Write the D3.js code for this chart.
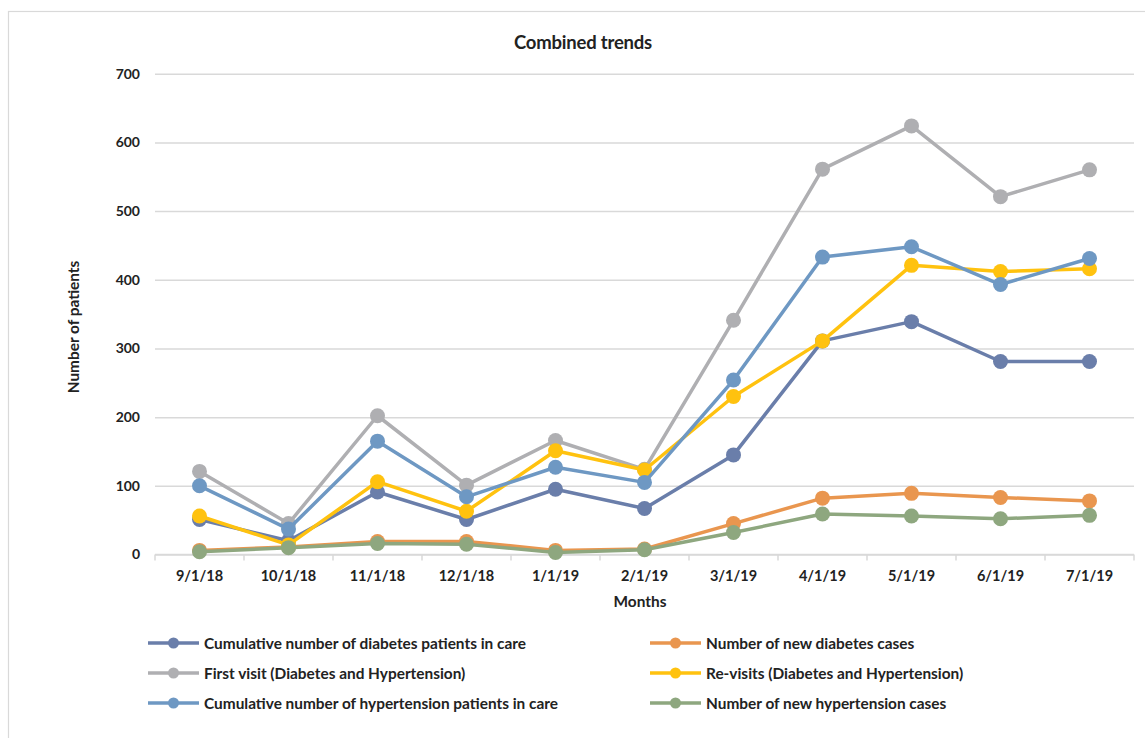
<!DOCTYPE html>
<html>
<head>
<meta charset="utf-8">
<script src="https://cdn.jsdelivr.net/npm/d3@7"></script>
<style>
  html, body { margin: 0; padding: 0; background: #fff; }
  svg { display: block; font-family: Lato, "Open Sans", sans-serif; }
</style>
</head>
<body>
<svg id="chart" width="1145" height="738"></svg>
<script>
// Monthly categories on the x axis
const months = ["9/1/18", "10/1/18", "11/1/18", "12/1/18", "1/1/19", "2/1/19",
                "3/1/19", "4/1/19", "5/1/19", "6/1/19", "7/1/19"];

// Y axis tick values
const yTicks = [0, 100, 200, 300, 400, 500, 600, 700];

// Series values, one per month
const cumulativeDiabetes   = [51, 20, 91, 51, 95, 67, 145, 311, 339, 281, 281];
const newDiabetes          = [6, 11, 19, 19, 6, 8, 45, 82, 89, 83, 78];
const firstVisit           = [121, 45, 202, 101, 166, 124, 341, 561, 624, 521, 560];
const reVisits             = [56, 14, 106, 63, 151, 123, 230, 311, 421, 412, 416];
const cumulativeHypertension = [100, 37, 165, 84, 127, 105, 254, 433, 448, 393, 431];
const newHypertension      = [4, 10, 16, 15, 3, 7, 32, 59, 56, 52, 57];

// Series names and colours, in drawing order
const seriesNames = [
  "Cumulative number of diabetes patients in care",
  "Number of new diabetes cases",
  "First visit (Diabetes and Hypertension)",
  "Re-visits (Diabetes and Hypertension)",
  "Cumulative number of hypertension patients in care",
  "Number of new hypertension cases"
];
const seriesColors = ["#6a7eaa", "#e9964f", "#afafb2", "#ffc20f", "#6e98c3", "#8ea77f"];
const seriesValues = [cumulativeDiabetes, newDiabetes, firstVisit, reVisits,
                      cumulativeHypertension, newHypertension];

const series = seriesNames.map((name, i) => ({
  name, color: seriesColors[i], values: seriesValues[i]
}));

const svg = d3.select("#chart");
const textColor = "#222";
const gridColor = "#d9d9d9";

// Chart frame
svg.append("rect")
  .attr("x", 8.5).attr("y", 11.5)
  .attr("width", 1200).attr("height", 800)
  .attr("fill", "#fff")
  .attr("stroke", "#d9d9d9").attr("stroke-width", 1.2);

const plot = { left: 155, right: 1134, top: 73.7, bottom: 554.5 };

const x = d3.scaleBand().domain(months).range([plot.left, plot.right]).padding(0);
const y = d3.scaleLinear().domain([0, 700]).range([plot.bottom, plot.top]);
const cx = d => x(d) + x.bandwidth() / 2;

// Horizontal gridlines and y tick labels
const yAxis = d3.axisLeft(y).tickValues(yTicks)
  .tickSize(-(plot.right - plot.left)).tickPadding(15).tickFormat(d3.format("d"));
const gy = svg.append("g").attr("transform", `translate(${plot.left},0)`).call(yAxis);
gy.select(".domain").remove();
gy.selectAll(".tick line").attr("stroke", gridColor).attr("stroke-width", 1.5);
gy.selectAll(".tick text")
  .attr("fill", textColor).attr("font-size", 14).attr("font-weight", "bold")
  .attr("font-family", "Lato, sans-serif");

// X axis: baseline with tick marks between categories
const gx = svg.append("g").attr("transform", `translate(0,${plot.bottom})`);
gx.append("line")
  .attr("x1", plot.left).attr("x2", plot.right)
  .attr("stroke", gridColor).attr("stroke-width", 1.5);
const boundaries = months.map(m => x(m)).concat([plot.right]);
gx.selectAll(".bt").data(boundaries).join("line")
  .attr("x1", d => d).attr("x2", d => d).attr("y1", 0).attr("y2", 6)
  .attr("stroke", gridColor).attr("stroke-width", 1.5);
gx.selectAll(".lbl").data(months).join("text")
  .attr("x", d => cx(d)).attr("y", 26)
  .attr("text-anchor", "middle")
  .attr("fill", textColor).attr("font-size", 14.5).attr("font-weight", "bold")
  .text(d => d);

// Lines and markers
const line = d3.line().x((d, i) => cx(months[i])).y(d => y(d));
series.forEach(s => {
  const g = svg.append("g");
  g.append("path")
    .attr("d", line(s.values))
    .attr("fill", "none").attr("stroke", s.color)
    .attr("stroke-width", 3.5).attr("stroke-linejoin", "round");
  g.selectAll("circle").data(s.values).join("circle")
    .attr("cx", (d, i) => cx(months[i])).attr("cy", d => y(d))
    .attr("r", 7.5).attr("fill", s.color);
});

// Title and axis titles
svg.append("text")
  .attr("x", 583).attr("y", 49).attr("text-anchor", "middle")
  .attr("fill", textColor).attr("font-size", 18.5).attr("font-weight", "bold")
  .attr("letter-spacing", -0.2)
  .text("Combined trends");

svg.append("text")
  .attr("transform", "translate(79,327) rotate(-90)")
  .attr("text-anchor", "middle")
  .attr("fill", textColor).attr("font-size", 15.4).attr("font-weight", "bold")
  .text("Number of patients");

svg.append("text")
  .attr("x", 640).attr("y", 607).attr("text-anchor", "middle")
  .attr("fill", textColor).attr("font-size", 15.4).attr("font-weight", "bold")
  .text("Months");

// Legend in two columns
const legendCols = [148, 650];
const legendRows = [643, 673, 703];
const legend = svg.append("g");
series.forEach((s, i) => {
  const lx = legendCols[i % 2];
  const ly = legendRows[Math.floor(i / 2)];
  const g = legend.append("g").attr("transform", `translate(${lx},${ly})`);
  g.append("line").attr("x1", 0).attr("x2", 51)
    .attr("stroke", s.color).attr("stroke-width", 3.5);
  g.append("circle").attr("cx", 25.5).attr("r", 5.5).attr("fill", s.color);
  g.append("text").attr("x", 56).attr("y", 5.5)
    .attr("fill", textColor).attr("font-size", 15.4).attr("font-weight", "bold")
    .text(s.name);
});
</script>
</body>
</html>
